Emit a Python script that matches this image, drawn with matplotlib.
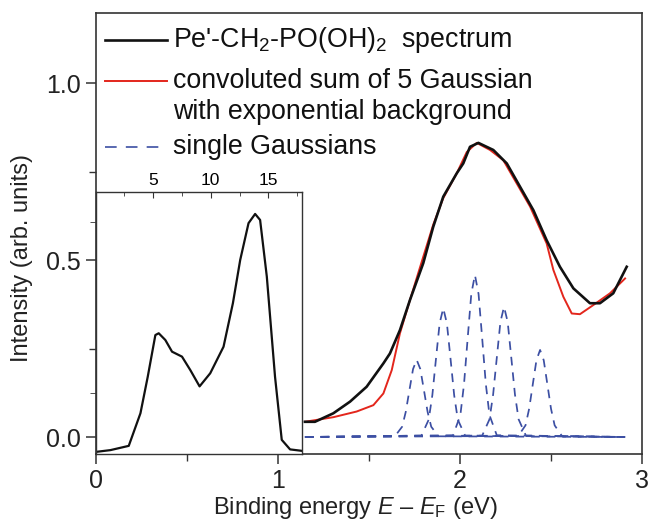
import matplotlib
matplotlib.use("Agg")
import matplotlib.pyplot as plt
from matplotlib.lines import Line2D

plt.rcParams["font.family"] = ["Liberation Sans", "DejaVu Sans"]
plt.rcParams["mathtext.fontset"] = "custom"
plt.rcParams["mathtext.rm"] = "Liberation Sans"
plt.rcParams["mathtext.it"] = "Liberation Sans:italic"

# main spectrum (black) and fit (red), binding energy in eV
energy_black = [1.148, 1.203, 1.304, 1.396, 1.487, 1.579, 1.615, 1.670, 1.725, 1.798, 1.853, 1.908,
                1.982, 2.018, 2.055, 2.101, 2.183, 2.257, 2.330, 2.403, 2.476, 2.549, 2.623, 2.714,
                2.769, 2.842, 2.916]
int_black = [0.043, 0.043, 0.067, 0.100, 0.142, 0.208, 0.236, 0.302, 0.387, 0.491, 0.594, 0.679,
             0.745, 0.773, 0.820, 0.831, 0.811, 0.773, 0.707, 0.641, 0.556, 0.481, 0.420, 0.378,
             0.378, 0.406, 0.481]

energy_red = [1.148, 1.304, 1.432, 1.524, 1.579, 1.625, 1.670, 1.725, 1.798, 1.853, 1.908, 1.982,
              2.037, 2.092, 2.165, 2.238, 2.311, 2.385, 2.476, 2.513, 2.568, 2.614, 2.659, 2.733,
              2.824, 2.907]
int_red = [0.043, 0.056, 0.072, 0.090, 0.123, 0.189, 0.293, 0.387, 0.509, 0.600, 0.675, 0.745,
           0.805, 0.831, 0.811, 0.782, 0.717, 0.651, 0.547, 0.472, 0.396, 0.349, 0.347, 0.373,
           0.406, 0.448]

# the five single gaussians
g1_x = [1.148, 1.642, 1.682, 1.702, 1.722, 1.742, 1.762, 1.782, 1.802, 1.822, 1.842, 1.882, 2.907]
g1_y = [0, 0.002, 0.029, 0.071, 0.132, 0.192, 0.218, 0.192, 0.132, 0.071, 0.029, 0.002, 0]
g2_x = [1.148, 1.788, 1.828, 1.848, 1.868, 1.888, 1.908, 1.928, 1.948, 1.968, 1.988, 2.028, 2.907]
g2_y = [0, 0.004, 0.049, 0.118, 0.221, 0.321, 0.364, 0.321, 0.221, 0.118, 0.049, 0.004, 0]
g3_x = [1.148, 1.962, 2.002, 2.022, 2.042, 2.062, 2.082, 2.102, 2.122, 2.142, 2.162, 2.202, 2.907]
g3_y = [0, 0.005, 0.062, 0.149, 0.278, 0.404, 0.458, 0.404, 0.278, 0.149, 0.062, 0.005, 0]
g4_x = [1.148, 2.122, 2.162, 2.182, 2.202, 2.222, 2.242, 2.262, 2.282, 2.302, 2.322, 2.362, 2.907]
g4_y = [0, 0.004, 0.050, 0.120, 0.223, 0.325, 0.368, 0.325, 0.223, 0.120, 0.050, 0.004, 0]
g5_x = [1.148, 2.320, 2.360, 2.380, 2.400, 2.420, 2.440, 2.460, 2.480, 2.500, 2.520, 2.560, 2.907]
g5_y = [0, 0.003, 0.033, 0.080, 0.149, 0.217, 0.246, 0.217, 0.149, 0.080, 0.033, 0.003, 0]
gaussians = [(g1_x, g1_y), (g2_x, g2_y), (g3_x, g3_y), (g4_x, g4_y), (g5_x, g5_y)]

# inset: wide range spectrum
inset_x = [0.11, 1.35, 2.93, 3.94, 4.57, 5.23, 5.52, 6.09, 6.67, 7.53, 8.25, 9.05,
           9.97, 11.12, 11.93, 12.56, 13.28, 13.85, 14.28, 14.86, 15.57, 16.15, 16.87, 17.87]
inset_y = [-0.042, -0.037, -0.025, 0.067, 0.170, 0.288, 0.293, 0.274, 0.241, 0.227, 0.189, 0.143,
           0.180, 0.255, 0.378, 0.500, 0.604, 0.630, 0.613, 0.453, 0.170, -0.008, -0.035, -0.039]

legend_labels = ["Pe'-CH$_2$-PO(OH)$_2$  spectrum",
                 "convoluted sum of 5 Gaussian",
                 "single Gaussians"]
legend_extra = "with exponential background"

BLACK = "#111111"
RED = "#e3261c"
BLUE = "#3c4fa3"
SPINE = "#333333"

W, H = 650, 523
fig = plt.figure(figsize=(W / 100, H / 100), dpi=100)

ax = fig.add_axes([96 / W, 1 - 454 / H, 546 / W, 441 / H])
for gx, gy in gaussians:
    line, = ax.plot(gx, gy, color=BLUE, lw=1.25)
    line.set_dashes((5.0, 4.0))
ax.plot(energy_red, int_red, color=RED, lw=1.4)
ax.plot(energy_black, int_black, color=BLACK, lw=1.9)

ax.set_xlim(0, 3)
ax.set_ylim(-0.048, 1.198)
ax.set_xticks([0, 1, 2, 3])
ax.set_xticks([0.5, 1.5, 2.5], minor=True)
ax.set_yticks([0.0, 0.5, 1.0])
ax.set_yticks([0.25, 0.75], minor=True)
ax.set_yticklabels(["0.0", "0.5", "1.0"])
ax.tick_params(which="major", direction="out", length=7, width=1.1, labelsize=18,
               color=SPINE, labelcolor="#222222", pad=4)
ax.tick_params(which="minor", direction="out", length=5, width=1.0, color=SPINE)
for s in ax.spines.values():
    s.set_color(SPINE)
    s.set_linewidth(1.2)

# legend drawn by hand so the handles sit on the first text line
rows = [40, 81, 147]
handles = [dict(color=BLACK, lw=1.9), dict(color=RED, lw=1.4), dict(color=BLUE, lw=1.2)]
for lab, py, hs in zip(legend_labels, rows, handles):
    yy = (454 - py) / 441
    ln = Line2D([9 / 546, 71 / 546], [yy, yy], transform=ax.transAxes, **hs)
    if hs["color"] == BLUE:
        ln.set_dashes((7, 5.5))
    ax.add_line(ln)
    ax.text(77 / 546, yy, lab, transform=ax.transAxes, fontsize=19.3, va="center",
            ha="left", color="#111111")
ax.text(77 / 546, (454 - 112) / 441, legend_extra, transform=ax.transAxes, fontsize=19.3,
        va="center", ha="left", color="#111111")

# inset
ins = fig.add_axes([96 / W, 1 - 454 / H, 206 / W, 262 / H])
ins.plot(inset_x, inset_y, color=BLACK, lw=1.6)
ins.set_xlim(0.1, 17.9)
ins.set_ylim(-0.048, 0.692)
ins.xaxis.tick_top()
ins.set_xticks([5, 10, 15])
ins.set_xticks([2.5, 7.5, 12.5, 17.5], minor=True)
ins.set_yticks([])
ins.set_yticks([0.124, 0.608], minor=True)
ins.tick_params(axis="x", which="both", direction="in", labelsize=12.5, color=SPINE, pad=3)
ins.tick_params(axis="x", which="major", length=4)
ins.tick_params(axis="x", which="minor", length=3)
ins.tick_params(axis="y", which="minor", direction="out", length=4, color=SPINE)
for s in ins.spines.values():
    s.set_color(SPINE)
    s.set_linewidth(1.0)

fig.text(355 / W, 1 - 508 / H, "Binding energy $E$ – $E_{\\mathrm{F}}$ (eV)", fontsize=17,
         ha="center", va="center", color="#222222")
fig.text(22 / W, 1 - 258 / H, "Intensity (arb. units)", fontsize=17, rotation=90,
         ha="center", va="center", color="#222222")

fig.savefig("out.png", dpi=100)
